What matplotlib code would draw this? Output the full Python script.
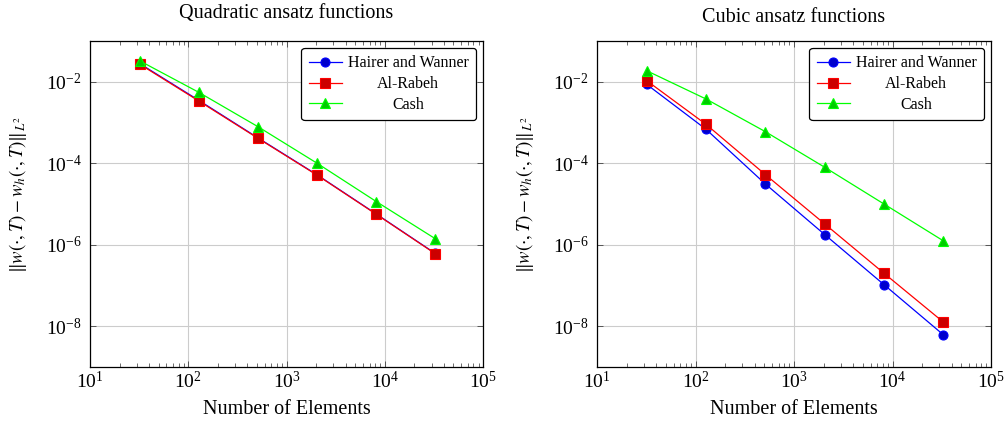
import matplotlib
matplotlib.use("Agg")
import matplotlib.pyplot as plt
from matplotlib.ticker import LogLocator, NullLocator, LogFormatterSciNotation

plt.rcParams['font.family'] = ['Liberation Serif', 'DejaVu Serif']
plt.rcParams['mathtext.fontset'] = 'stix'

# number of elements (same for both panels)
elements = [32, 128, 512, 2048, 8192, 32768]

# quadratic ansatz errors
quad_hw = [2.8e-2, 3.5e-3, 4.2e-4, 5.2e-5, 5.7e-6, 6.1e-7]
quad_ar = [2.7e-2, 3.37e-3, 4.1e-4, 5.1e-5, 5.6e-6, 6.0e-7]
quad_cash = [3.27e-2, 5.5e-3, 7.9e-4, 1.0e-4, 1.15e-5, 1.4e-6]

# cubic ansatz errors
cub_hw = [8.6e-3, 6.8e-4, 3.1e-5, 1.78e-6, 1.05e-7, 6.2e-9]
cub_ar = [1.06e-2, 9.0e-4, 5.26e-5, 3.25e-6, 2.0e-7, 1.27e-8]
cub_cash = [1.86e-2, 3.77e-3, 5.96e-4, 7.98e-5, 1.0e-5, 1.25e-6]

labels = ['Hairer and Wanner', 'Al-Rabeh', 'Cash']
titles = ['Quadratic ansatz functions', 'Cubic ansatz functions']

fig = plt.figure(figsize=(10.07, 4.28), dpi=100)
W, H = 1007, 428
ax1 = fig.add_axes([90 / W, (H - 367) / H, 393 / W, 326 / H])
ax2 = fig.add_axes([597 / W, (H - 367) / H, 394 / W, 326 / H])

styles = [
    dict(color='#0000ff', marker='o', mfc='#0000cc', ms=6.5),
    dict(color='#ff0000', marker='s', mfc='#cc0000', ms=6.5),
    dict(color='#00ff00', marker='^', mfc='#00cc00', ms=6.5),
]

panels = [(ax1, [quad_hw, quad_ar, quad_cash], 16.5),
          (ax2, [cub_hw, cub_ar, cub_cash], 13.7)]

for i, (ax, series, tpad) in enumerate(panels):
    for vals, lab, st in zip(series, labels, styles):
        ax.plot(elements, vals, label=lab, lw=0.9, mew=0.8, **st)
    ax.set_xscale('log')
    ax.set_yscale('log')
    ax.set_xlim(10, 1e5)
    ax.set_ylim(1e-9, 1e-1)
    ax.xaxis.set_major_locator(LogLocator(base=10, numticks=10))
    ax.xaxis.set_minor_locator(LogLocator(base=10, subs=range(2, 10), numticks=20))
    ax.yaxis.set_major_locator(LogLocator(base=100, numticks=10))
    ax.yaxis.set_major_formatter(LogFormatterSciNotation(base=10))
    ax.yaxis.set_minor_locator(NullLocator())
    ax.grid(True, which='major', color='#cccccc', lw=0.8)
    ax.set_axisbelow(True)
    ax.tick_params(which='both', direction='in', top=True, right=True,
                   labelsize=14, color='#555555')
    ax.tick_params(which='major', length=4.5, width=0.7)
    ax.tick_params(which='minor', length=3, width=0.6)
    ax.tick_params(axis='x', pad=3)
    ax.tick_params(axis='y', pad=6)
    for sp in ax.spines.values():
        sp.set_linewidth(0.9)
    ax.set_title(titles[i], fontsize=14.5, pad=tpad)
    ax.set_xlabel('Number of Elements', fontsize=14.5)
    ax.xaxis.set_label_coords(0.5, -0.1)
    ax.set_ylabel(r'$\|w(\cdot,T)-w_h(\cdot,T)\|_{L^2}$', fontsize=13.5)
    ax.yaxis.set_label_coords(-0.155, 0.53)

    leg = ax.legend(loc='upper right', fontsize=11.5, fancybox=True,
                    edgecolor='black', framealpha=1, numpoints=1,
                    handlelength=2.1, handletextpad=0.35, labelspacing=0.3,
                    borderpad=0.45, borderaxespad=0.45)
    leg.get_frame().set_linewidth(0.9)

    # center legend text like pgfplots
    renderer = fig.canvas.get_renderer()
    texts = leg.get_texts()
    widths = [t.get_window_extent(renderer).width for t in texts]
    wmax = max(widths)
    for t, w in zip(texts, widths):
        t.set_x((wmax - w) / 2)

fig.savefig('out.png', dpi=100)
